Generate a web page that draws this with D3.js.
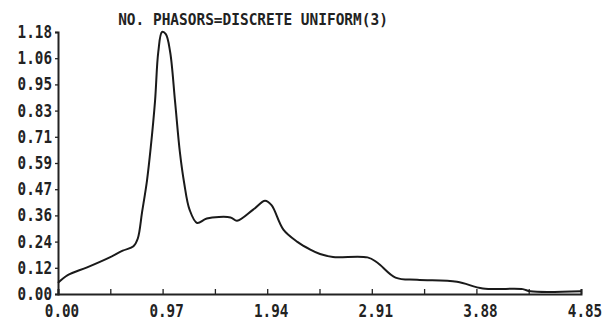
<!DOCTYPE html>
<html>
<head>
<meta charset="utf-8">
<script src="https://cdn.jsdelivr.net/npm/d3@7"></script>
<style>
  body { margin: 0; background: #fff; }
  svg { display: block; background: #fff; }
  .lbl { font-family: "DejaVu Sans Mono", monospace; font-weight: bold; fill: #222; }
</style>
</head>
<body>
<div id="chart"></div>
<script>
// data
var title = "NO. PHASORS=DISCRETE UNIFORM(3)";
var xTickLabels = ["0.00", "0.97", "1.94", "2.91", "3.88", "4.85"];
var yTickLabels = ["0.00", "0.12", "0.24", "0.36", "0.47", "0.59", "0.71", "0.83", "0.95", "1.06", "1.18"];
var xMax = 4.85, yMax = 1.18;

var xs = [0.00, 0.09, 0.27, 0.48, 0.60, 0.70, 0.74, 0.78, 0.825, 0.86, 0.90, 0.93, 0.965, 1.00, 1.04, 1.085,
          1.13, 1.17, 1.22, 1.29, 1.38, 1.60, 1.66, 1.81, 1.92, 1.98, 2.09, 2.22, 2.34, 2.43, 2.55,
          2.87, 2.96, 3.13, 3.33, 3.70, 3.94, 4.31, 4.38, 4.85];
var ys = [0.05, 0.085, 0.12, 0.165, 0.195, 0.215, 0.25, 0.37, 0.51, 0.66, 0.87, 1.09, 1.18, 1.17, 1.09, 0.87,
          0.64, 0.50, 0.38, 0.32, 0.34, 0.345, 0.33, 0.38, 0.42, 0.40, 0.29, 0.235, 0.20, 0.18, 0.167,
          0.165, 0.142, 0.074, 0.064, 0.055, 0.025, 0.022, 0.012, 0.012];

var width = 615, height = 329,
    margins = {left: 58, right: 34, top: 32, bottom: 35};

var data = xs.map(function (x, i) { return {x: x, y: ys[i]}; });

var xScale = d3.scaleLinear().domain([0, xMax]).range([margins.left, width - margins.right]);
var yScale = d3.scaleLinear().domain([0, yMax]).range([height - margins.bottom, margins.top]);

var svg = d3.select('#chart')
    .append('svg')
        .attr('width', width)
        .attr('height', height);

// monospaced label, squeezed to the plotter's narrow glyphs
function label(sel, txt, size, charW) {
    sel.text(txt)
        .attr('class', 'lbl')
        .attr('font-size', size)
        .attr('textLength', txt.length * charW)
        .attr('lengthAdjust', 'spacingAndGlyphs');
}

// title
label(svg.append('text').attr('x', 253).attr('y', 25).attr('text-anchor', 'middle'), title, 16, 8.7);

// x axis: half steps get a tick, full steps get a label
var xTickVals = d3.range(0, 11).map(function (i) { return i * xMax / 10; });
var gx = svg.append('g')
    .attr('transform', 'translate(0,' + yScale(0) + ')')
    .call(d3.axisBottom(xScale).tickValues(xTickVals).tickSize(-5).tickFormat(''));
gx.select('.domain').attr('stroke', '#222').attr('stroke-width', 2);
gx.selectAll('.tick line').attr('stroke', '#222').attr('stroke-width', 1.3);

xTickLabels.forEach(function (t, i) {
    label(svg.append('text')
        .attr('x', xScale(i * xMax / 5) + 4)
        .attr('y', height - 12)
        .attr('text-anchor', 'middle'), t, 18, 8.6);
});

// y axis
var yTickVals = yTickLabels.map(function (t, i) { return i * yMax / 10; });
var gy = svg.append('g')
    .attr('transform', 'translate(' + margins.left + ',0)')
    .call(d3.axisLeft(yScale).tickValues(yTickVals).tickSize(3).tickFormat(''));
gy.select('.domain').attr('stroke', '#222').attr('stroke-width', 2);
gy.selectAll('.tick line').attr('stroke', '#222').attr('stroke-width', 1.3);

yTickLabels.forEach(function (t, i) {
    label(svg.append('text')
        .attr('x', margins.left - 6)
        .attr('y', yScale(yTickVals[i]) + 6)
        .attr('text-anchor', 'end'), t, 18, 8.6);
});

// curve
var line = d3.line()
    .x(function (d) { return xScale(d.x); })
    .y(function (d) { return yScale(d.y); })
    .curve(d3.curveCatmullRom.alpha(0.5));

svg.append('path')
    .datum(data)
    .attr('d', line)
    .attr('fill', 'none')
    .attr('stroke', '#1a1a1a')
    .attr('stroke-width', 2);
</script>
</body>
</html>
